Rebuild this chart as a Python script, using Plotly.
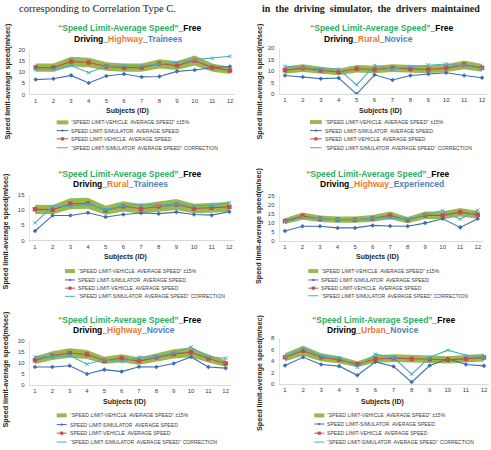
import plotly.graph_objects as go

# ---------------- data ----------------
subjects = list(range(1, 13))
tick_labels = [str(s) for s in subjects]

regions = ["Highway", "Rural", "Rural", "Highway", "Highway", "Urban"]
groups = ["Trainees", "Novice", "Trainees", "Experienced", "Novice", "Novice"]
y_max = [20, 20, 15, 25, 20, 8]
y_dtick = [5, 5, 5, 5, 5, 2]

sim_1 = [6.7, 7.1, 8.6, 5.2, 8.3, 9.2, 7.9, 8.1, 10.4, 11.0, 12.1, 12.6]
veh_1 = [12.1, 12.1, 14.8, 14.4, 12.6, 12.1, 12.1, 13.8, 13.0, 15.3, 12.1, 10.8]
cor_1 = [11.1, 11.1, 13.0, 9.8, 12.8, 13.1, 12.9, 13.6, 14.5, 15.7, 16.3, 17.2]

sim_2 = [8.1, 7.4, 6.7, 7.0, 0.0, 8.4, 6.1, 8.1, 8.7, 9.3, 8.1, 7.1]
veh_2 = [10.4, 11.3, 10.3, 9.6, 11.0, 10.7, 11.3, 10.9, 10.7, 11.3, 12.7, 11.4]
cor_2 = [12.1, 11.4, 11.0, 10.9, 4.0, 12.4, 10.9, 12.0, 12.7, 13.1, 12.4, 11.0]

sim_3 = [3.1, 8.2, 8.2, 9.1, 7.7, 8.5, 9.0, 8.8, 9.3, 8.5, 8.3, 9.4]
veh_3 = [10.2, 10.1, 12.0, 12.2, 9.9, 11.2, 10.4, 11.2, 11.8, 10.5, 10.7, 11.0]
cor_3 = [5.8, 11.2, 11.2, 11.9, 10.2, 11.4, 11.8, 11.5, 12.0, 11.3, 11.5, 12.4]

sim_4 = [5.5, 8.1, 8.1, 7.2, 7.2, 8.6, 8.3, 8.1, 9.9, 12.3, 7.5, 12.3]
veh_4 = [11.0, 13.8, 12.3, 11.8, 11.8, 12.5, 14.2, 11.6, 14.3, 14.2, 16.0, 14.5]
cor_4 = [10.5, 13.0, 12.5, 11.8, 11.8, 12.7, 12.7, 12.1, 14.7, 16.9, 12.1, 17.1]

sim_5 = [8.0, 8.0, 8.6, 4.8, 6.8, 5.9, 8.1, 8.0, 9.6, 12.6, 8.0, 7.5]
veh_5 = [11.1, 13.2, 14.4, 13.7, 11.0, 12.0, 10.7, 12.5, 14.0, 14.7, 11.9, 9.6]
cor_5 = [12.5, 12.8, 13.2, 9.3, 11.4, 10.4, 12.5, 12.8, 14.4, 17.1, 12.6, 12.0]

sim_6 = [3.2, 4.65, 3.4, 3.1, 1.5, 3.85, 3.05, 0.3, 3.2, 4.4, 3.4, 3.15]
veh_6 = [4.65, 5.8, 4.65, 4.2, 3.45, 4.35, 4.5, 4.35, 4.3, 4.2, 4.4, 4.6]
cor_6 = [4.75, 6.25, 4.9, 4.6, 2.9, 5.2, 4.6, 1.7, 4.65, 5.9, 5.0, 4.65]

sims = [sim_1, sim_2, sim_3, sim_4, sim_5, sim_6]
vehs = [veh_1, veh_2, veh_3, veh_4, veh_5, veh_6]
cors = [cor_1, cor_2, cor_3, cor_4, cor_5, cor_6]
band_pct = 0.15

legend_texts = [
    "“SPEED LIMIT-VEHICLE  AVERAGE SPEED” ±15%",
    "SPEED LIMIT-SIMULATOR  AVERAGE SPEED",
    "SPEED LIMIT-VEHICLE  AVERAGE SPEED",
    "“SPEED LIMIT-SIMULATOR  AVERAGE SPEED” CORRECTION",
]

# ---------------- layout geometry (pixels) ----------------
W, H = 491, 450
def PX(x):
    return x / W
def PY(y):
    return 1 - y / H

# plot-area boxes: left, right, top, bottom (px)
boxes = [
    (30.4, 235.3, 47.7, 92.7),
    (279.6, 487.4, 45.7, 92.3),
    (29.7, 234.6, 194.3, 240.7),
    (279.7, 483.0, 195.7, 241.0),
    (29.8, 230.9, 342.3, 386.7),
    (279.6, 489.4, 339.7, 386.0),
]
title1_pos = [(130, 25.7), (381.8, 25.7), (129.8, 173.3), (378.3, 173.3), (130, 321.3), (384, 321)]
title2_pos = [(127.7, 36), (368, 36), (120.7, 183.3), (382, 183.3), (123.7, 331.7), (372, 331.7)]
xtitle_pos = [(127, 109.3), (380, 109.3), (125.5, 257.7), (377.8, 257.7), (124.7, 404.3), (382, 404.3)]
ytitle_pos = [(7, 79.5), (259.5, 80), (5.5, 232), (259, 226), (5.5, 372), (259, 375)]
legend_sym = [(56.7, 68.3), (310, 321.7), (65, 75), (308.3, 318.3), (56.7, 66.7), (314.3, 324.3)]
legend_rows = [
    (121, 129.3, 137.7, 146.7),
    (120.7, 129.3, 137.7, 146.7),
    (271.7, 280.7, 289, 297.3),
    (271.7, 280.7, 289, 296.7),
    (418, 427.3, 436, 445),
    (418, 426.7, 436, 445),
]

C_SIM = "#3F6DB5"
C_VEH = "#C0504D"
C_COR = "#4BACC6"
C_BAND = "rgba(128,170,40,0.82)"
C_GREEN = "#2BAE66"
C_ORANGE = "#EE7A2A"
C_BLUE = "#4F81BD"
FONT = "Liberation Sans, Arial, sans-serif"
SERIF = "Liberation Serif, Times New Roman, serif"

fig = go.Figure()
layout = dict(
    width=W, height=H, margin=dict(l=0, r=0, t=0, b=0),
    paper_bgcolor="white", plot_bgcolor="white", showlegend=False,
    font=dict(family=FONT),
)
annotations = []
shapes = []

for i in range(6):
    n = "" if i == 0 else str(i + 1)
    xa, ya = "x" + n, "y" + n
    l, r, t, b = boxes[i]
    veh = vehs[i]
    upper = [v * (1 + band_pct) for v in veh]
    lower = [v * (1 - band_pct) for v in veh]
    fig.add_trace(go.Scatter(
        x=subjects + subjects[::-1], y=upper + lower[::-1], fill="toself",
        fillcolor=C_BAND, line=dict(width=0), mode="lines",
        xaxis=xa, yaxis=ya, hoverinfo="skip"))
    fig.add_trace(go.Scatter(
        x=subjects, y=sims[i], mode="lines+markers", xaxis=xa, yaxis=ya,
        line=dict(color=C_SIM, width=1.1),
        marker=dict(symbol="diamond", size=3.5, color=C_SIM)))
    fig.add_trace(go.Scatter(
        x=subjects, y=veh, mode="lines+markers", xaxis=xa, yaxis=ya,
        line=dict(color=C_VEH, width=1.1),
        marker=dict(symbol="square", size=4.5, color=C_VEH)))
    fig.add_trace(go.Scatter(
        x=subjects, y=cors[i], mode="lines+markers", xaxis=xa, yaxis=ya,
        line=dict(color=C_COR, width=1.1),
        marker=dict(symbol="x-thin-open", size=3.5, color=C_COR,
                    line=dict(color=C_COR, width=1))))

    layout["xaxis" + n] = dict(
        domain=[PX(l), PX(r)], anchor=ya, range=[0.7, 12.3],
        tickmode="array", tickvals=subjects, ticktext=tick_labels,
        showgrid=False, zeroline=False, showline=True, linecolor="#D9D9D9",
        linewidth=1, ticks="", tickfont=dict(size=6, color="#404040", family=FONT),
    )
    layout["yaxis" + n] = dict(
        domain=[PY(b), PY(t)], anchor=xa, range=[0, y_max[i]], dtick=y_dtick[i],
        showgrid=False, zeroline=False, showline=True, linecolor="#E3E3E3",
        linewidth=1, ticks="", ticklabelstandoff=3,
        tickfont=dict(size=6, color="#404040", family=FONT),
    )

    # titles
    tx, ty = title1_pos[i]
    annotations.append(dict(
        x=PX(tx), y=PY(ty), xref="paper", yref="paper", showarrow=False,
        xanchor="center", yanchor="middle",
        text=f"<span style='color:{C_GREEN}'>“Speed Limit-Average Speed”</span>_Free",
        font=dict(size=8.5, color="black", family=FONT, weight="bold")))
    tx, ty = title2_pos[i]
    annotations.append(dict(
        x=PX(tx), y=PY(ty), xref="paper", yref="paper", showarrow=False,
        xanchor="center", yanchor="middle",
        text=(f"Driving_<span style='color:{C_ORANGE}'>{regions[i]}</span>_"
              f"<span style='color:{C_BLUE}'>{groups[i]}</span>"),
        font=dict(size=8.5, color="black", family=FONT, weight="bold")))
    # axis titles
    tx, ty = xtitle_pos[i]
    annotations.append(dict(
        x=PX(tx), y=PY(ty), xref="paper", yref="paper", showarrow=False,
        xanchor="center", yanchor="middle", text="Subjects (ID)",
        font=dict(size=7, color="#262626", family=FONT, weight="bold")))
    tx, ty = ytitle_pos[i]
    annotations.append(dict(
        x=PX(tx), y=PY(ty), xref="paper", yref="paper", showarrow=False,
        xanchor="center", yanchor="middle", textangle=-90,
        text="Speed limit-average speed(m/sec)",
        font=dict(size=7.2, color="#262626", family=FONT, weight="bold")))

    # legend (drawn as layout shapes + text)
    sx0, sx1 = legend_sym[i]
    sxm = (sx0 + sx1) / 2
    rows = legend_rows[i]
    cols = [None, C_SIM, C_VEH, C_COR]
    for k, ry in enumerate(rows):
        if k == 0:
            shapes.append(dict(type="line", xref="paper", yref="paper",
                               x0=PX(sx0), x1=PX(sx1), y0=PY(ry), y1=PY(ry),
                               line=dict(color=C_BAND, width=4)))
        else:
            shapes.append(dict(type="line", xref="paper", yref="paper",
                               x0=PX(sx0), x1=PX(sx1), y0=PY(ry), y1=PY(ry),
                               line=dict(color=cols[k], width=1)))
            if k == 1:
                d = 1.4
                shapes.append(dict(type="path", xref="paper", yref="paper",
                                   path=(f"M{PX(sxm - d)},{PY(ry)} L{PX(sxm)},{PY(ry - d)} "
                                         f"L{PX(sxm + d)},{PY(ry)} L{PX(sxm)},{PY(ry + d)} Z"),
                                   fillcolor=C_SIM, line=dict(width=0)))
            elif k == 2:
                d = 1.6
                shapes.append(dict(type="rect", xref="paper", yref="paper",
                                   x0=PX(sxm - d), x1=PX(sxm + d), y0=PY(ry + d), y1=PY(ry - d),
                                   fillcolor=C_VEH, line=dict(width=0)))
        annotations.append(dict(
            x=PX(sx1 + 1), y=PY(ry), xref="paper", yref="paper", showarrow=False,
            xanchor="left", yanchor="middle", text=legend_texts[k],
            font=dict(size=5.1, color="#404040", family=FONT)))

# page text fragments at the top
annotations.append(dict(
    x=PX(16.5), y=PY(5.5), xref="paper", yref="paper", showarrow=False,
    xanchor="left", yanchor="middle", text="corresponding to Correlation Type C.",
    font=dict(size=10.5, color="#222222", family=SERIF)))
sp = "\u00a0 "
annotations.append(dict(
    x=PX(260), y=PY(5.5), xref="paper", yref="paper", showarrow=False,
    xanchor="left", yanchor="middle",
    text=sp.join(["in", "the", "driving", "simulator,", "the", "drivers", "maintained"]),
    font=dict(size=10, color="#222222", family=SERIF, weight="bold")))

layout["annotations"] = annotations
layout["shapes"] = shapes
fig.update_layout(**layout)
fig.write_html("out.html")
